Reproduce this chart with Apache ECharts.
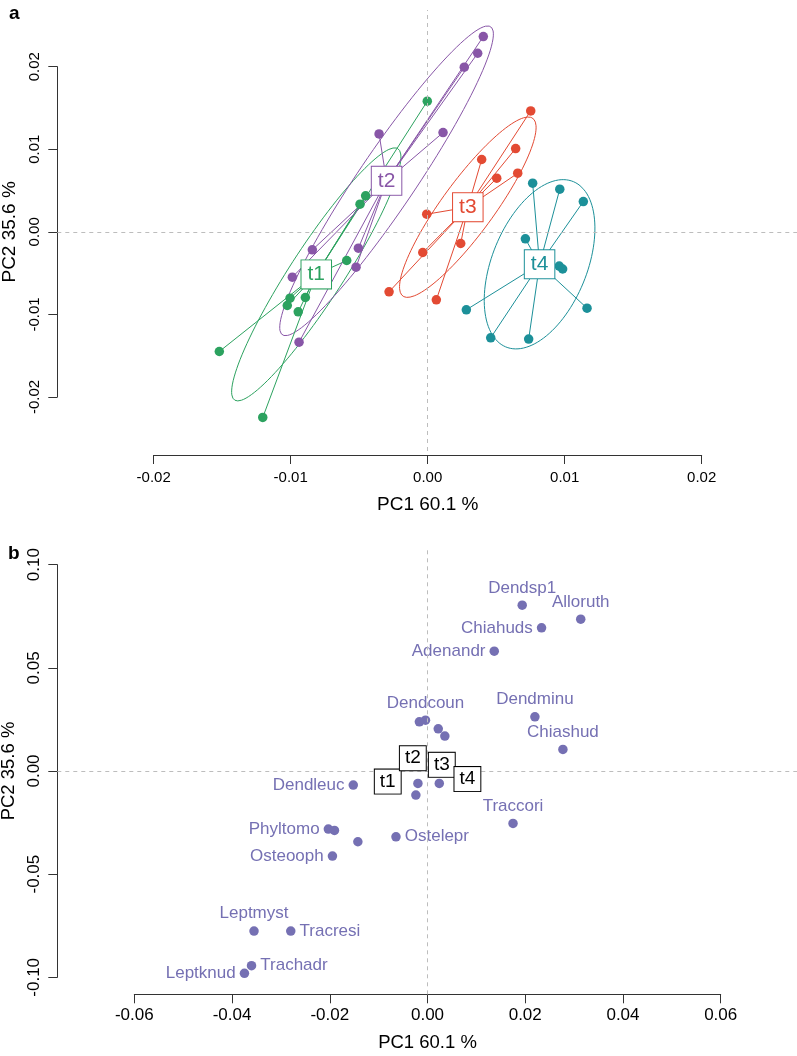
<!DOCTYPE html>
<html><head><meta charset="utf-8">
<script src="https://cdn.jsdelivr.net/npm/echarts@6/dist/echarts.min.js"></script>
<style>html,body{margin:0;padding:0;background:#fff}#c{width:797px;height:1056px}</style>
</head><body><div id="c"></div>
<script>
// ---------------- DATA ----------------
// Panel a: site scores (PC1, PC2) per sampling time
const groupNames = ['t1', 't2', 't3', 't4'];
const t1X = [-0.00003, -0.00453, -0.00494, -0.00591, -0.00893, -0.01005, -0.01025, -0.00945, -0.01521, -0.01204];
const t1Y = [0.01582, 0.00436, 0.00335, -0.00347, -0.00795, -0.00803, -0.00892, -0.00969, -0.01449, -0.02248];
const t2X = [0.00406, 0.00365, 0.00267, -0.00355, 0.00112, -0.00842, -0.00506, -0.00523, -0.00988, -0.00939];
const t2Y = [0.02365, 0.02163, 0.01994, 0.01186, 0.01202, -0.00218, -0.00198, -0.00428, -0.00549, -0.01336];
const t3X = [0.00752, 0.00642, 0.00394, 0.00504, 0.00657, -0.00007, -0.00036, 0.00241, -0.00282, 0.00063];
const t3Y = [0.01465, 0.01009, 0.00876, 0.00650, 0.00710, 0.00214, -0.00250, -0.00141, -0.00726, -0.00823];
const t4X = [0.00766, 0.00964, 0.01136, 0.00713, 0.00960, 0.00985, 0.01163, 0.00282, 0.00460, 0.00737];
const t4Y = [0.00590, 0.00517, 0.00367, -0.00085, -0.00415, -0.00450, -0.00924, -0.00944, -0.01283, -0.01299];

// Panel b: species scores
const spNames = ['Dendsp1', 'Alloruth', 'Chiahuds', 'Adenandr', '', 'Dendcoun', '', '', 'Dendminu', 'Chiashud',
  'Dendleuc', '', '', '', 'Traccori', 'Phyltomo', '', '', 'Ostelepr', 'Osteooph',
  'Leptmyst', 'Tracresi', 'Trachadr', 'Leptknud'];
const spX = [0.01938, 0.03136, 0.02334, 0.01366, -0.00166, -0.00041, 0.00220, 0.00355, 0.02198, 0.02771,
  -0.01519, -0.00196, 0.00241, -0.00238, 0.01750, -0.02029, -0.01904, -0.01425, -0.00645, -0.01945,
  -0.03550, -0.02798, -0.03601, -0.03746];
const spY = [0.08038, 0.07359, 0.06938, 0.05809, 0.02384, 0.02466, 0.02045, 0.01691, 0.02626, 0.01046,
  -0.00683, -0.00601, -0.00601, -0.01168, -0.02539, -0.02815, -0.02879, -0.03430, -0.03188, -0.04123,
  -0.07757, -0.07757, -0.09438, -0.09806];

// Tick values
const aTicksX = [-0.02, -0.01, 0, 0.01, 0.02];
const aTicksY = [-0.02, -0.01, 0, 0.01, 0.02];
const bTicksX = [-0.06, -0.04, -0.02, 0, 0.02, 0.04, 0.06];
const bTicksY = [-0.10, -0.05, 0, 0.05, 0.10];

const xTitle = 'PC1 60.1 %';
const yTitle = 'PC2 35.6 %';

// ---------------- STYLE / LAYOUT ----------------
const groupColors = ['#2CA25F', '#8856A7', '#E34A33', '#1C9099'];
const spColor = '#7570B3';
const labelPlacement = {
  Dendsp1: 'top', Alloruth: 'top', Dendcoun: 'top', Dendminu: 'top', Chiashud: 'top', Traccori: 'top', Leptmyst: 'top',
  Chiahuds: 'left', Adenandr: 'left', Dendleuc: 'left', Phyltomo: 'left', Osteooph: 'left', Leptknud: 'left',
  Ostelepr: 'right', Tracresi: 'right', Trachadr: 'right'
};
const FONT = '"Liberation Sans", Arial, Helvetica, sans-serif';
const axisColor = '#333';
const dashColor = '#BDBDBD';

// pixel boxes: tick-range box (where axis lines run) and plotting box
const LA = { tick: { l: 153.7, r: 701.7, t: 66.7, b: 397 }, plot: { l: 57.3, r: 797, t: 10, b: 451 }, xAxisY: 455, yAxisX: 57.3, fs: 15, ts: 19 };
const LB = { tick: { l: 134.3, r: 720.7, t: 564.7, b: 977.3 }, plot: { l: 57.3, r: 797, t: 548, b: 994.3 }, xAxisY: 994.3, yAxisX: 57.3, fs: 17, ts: 18.5 };

function extent(L, ticks, horizontal) {
  const v0 = ticks[0], v1 = ticks[ticks.length - 1];
  if (horizontal) {
    const k = (v1 - v0) / (L.tick.r - L.tick.l);
    return [v0 - (L.tick.l - L.plot.l) * k, v1 + (L.plot.r - L.tick.r) * k];
  } else {
    const k = (v1 - v0) / (L.tick.b - L.tick.t);
    return [v0 - (L.plot.b - L.tick.b) * k, v1 + (L.tick.t - L.plot.t) * k];
  }
}
function gridOf(box) {
  return { left: box.l, top: box.t, width: box.r - box.l, height: box.b - box.t, containLabel: false, outerBoundsMode: 'none' };
}
const fmt = v => (Math.abs(v) < 1e-12 ? 0 : v).toFixed(2);

function tickAxisX(gi, ticks, L, nameGap, margin) {
  return {
    type: 'value', gridIndex: gi, min: ticks[0], max: ticks[ticks.length - 1], interval: ticks[1] - ticks[0],
    offset: L.xAxisY - L.tick.b,
    axisLine: { show: true, onZero: false, lineStyle: { color: axisColor, width: 1 } },
    axisTick: { show: true, length: 9, lineStyle: { color: axisColor, width: 1 } },
    axisLabel: { show: true, formatter: fmt, fontSize: L.fs, color: '#000', margin: margin, fontFamily: FONT },
    splitLine: { show: false },
    name: xTitle, nameLocation: 'middle', nameGap: nameGap,
    nameTextStyle: { fontSize: L.ts, color: '#000', fontFamily: FONT }
  };
}
function tickAxisY(gi, ticks, L, nameGap, margin) {
  return {
    type: 'value', gridIndex: gi, min: ticks[0], max: ticks[ticks.length - 1], interval: ticks[1] - ticks[0],
    offset: L.tick.l - L.yAxisX,
    axisLine: { show: true, onZero: false, lineStyle: { color: axisColor, width: 1 } },
    axisTick: { show: true, length: 9, lineStyle: { color: axisColor, width: 1 } },
    axisLabel: { show: true, formatter: fmt, fontSize: L.fs, color: '#000', margin: margin, rotate: 90, fontFamily: FONT },
    splitLine: { show: false },
    name: yTitle, nameLocation: 'middle', nameGap: nameGap, nameRotate: 90,
    nameTextStyle: { fontSize: L.ts, color: '#000', fontFamily: FONT }
  };
}
function plotAxis(gi, ext) {
  return { type: 'value', gridIndex: gi, min: ext[0], max: ext[1], show: false, splitLine: { show: false } };
}

// ---------------- DERIVED (ade4 s.class style) ----------------
const groupsX = [t1X, t2X, t3X, t4X];
const groupsY = [t1Y, t2Y, t3Y, t4Y];
const mean = a => a.reduce((s, v) => s + v, 0) / a.length;
const centroids = groupsX.map((xs, i) => [mean(xs), mean(groupsY[i])]);

function ellipse(xs, ys, coeff) {
  const n = xs.length, mx = mean(xs), my = mean(ys);
  let vx = 0, vy = 0, cxy = 0;
  for (let i = 0; i < n; i++) {
    vx += (xs[i] - mx) ** 2 / n; vy += (ys[i] - my) ** 2 / n; cxy += (xs[i] - mx) * (ys[i] - my) / n;
  }
  const delta = Math.sqrt((vx - vy) ** 2 + 4 * cxy * cxy);
  let l1 = (vx + vy + delta) / 2, l2 = vx + vy - l1;
  l1 = Math.sqrt(Math.max(l1, 0)); l2 = Math.sqrt(Math.max(l2, 0));
  let a0 = 1, b0 = (l1 * l1 - vx) / cxy;
  const nr = Math.sqrt(a0 * a0 + b0 * b0); a0 /= nr; b0 /= nr;
  const c11 = coeff * a0 * l1, c12 = -coeff * b0 * l2, c21 = coeff * b0 * l1, c22 = coeff * a0 * l2;
  const pts = [];
  for (let i = 0; i <= 120; i++) {
    const t = 2 * Math.PI * i / 120;
    pts.push([mx + c11 * Math.cos(t) + c12 * Math.sin(t), my + c21 * Math.cos(t) + c22 * Math.sin(t)]);
  }
  return pts;
}

// ---------------- SERIES ----------------
const series = [];
function zeroLines(axisIdx) {
  return {
    type: 'line', xAxisIndex: axisIdx, yAxisIndex: axisIdx, data: [], z: 1, silent: true,
    markLine: {
      silent: true, symbol: ['none', 'none'], label: { show: false }, animation: false,
      lineStyle: { color: dashColor, type: [4, 4], width: 1 },
      data: [{ xAxis: 0 }, { yAxis: 0 }]
    }
  };
}
series.push(zeroLines(1));
series.push(zeroLines(3));

groupNames.forEach((g, i) => {
  series.push({
    type: 'line', name: g + ' ellipse', xAxisIndex: 1, yAxisIndex: 1, data: ellipse(groupsX[i], groupsY[i], 1.5),
    showSymbol: false, symbol: 'none', smooth: false, clip: false, z: 2, silent: true,
    lineStyle: { color: groupColors[i], width: 1 }
  });
});
groupNames.forEach((g, i) => {
  series.push({
    type: 'lines', coordinateSystem: 'cartesian2d', xAxisIndex: 1, yAxisIndex: 1, z: 3, silent: true,
    lineStyle: { color: groupColors[i], width: 1, opacity: 1, curveness: 0 },
    data: groupsX[i].map((x, k) => ({ coords: [centroids[i], [x, groupsY[i][k]]] }))
  });
});
groupNames.forEach((g, i) => {
  series.push({
    type: 'scatter', name: g, xAxisIndex: 1, yAxisIndex: 1, z: 4, clip: false,
    symbol: 'circle', symbolSize: 9.5, itemStyle: { color: groupColors[i], opacity: 1 },
    data: groupsX[i].map((x, k) => [x, groupsY[i][k]])
  });
});
groupNames.forEach((g, i) => {
  series.push({
    type: 'scatter', xAxisIndex: 1, yAxisIndex: 1, z: 5, clip: false, symbolSize: 0,
    itemStyle: { opacity: 1 },
    data: [{ value: centroids[i], name: g }],
    label: {
      show: true, position: 'inside', formatter: '{b}', fontSize: 21, fontFamily: FONT, color: groupColors[i],
      backgroundColor: '#fff', borderColor: groupColors[i], borderWidth: 1, padding: [4, 6, 3, 6]
    }
  });
});

// panel b species
series.push({
  type: 'scatter', xAxisIndex: 3, yAxisIndex: 3, z: 4, clip: false,
  symbol: 'circle', symbolSize: 9.5, itemStyle: { color: spColor, opacity: 1 },
  data: spX.map((x, k) => ({
    value: [x, spY[k]], name: spNames[k],
    label: { show: spNames[k] !== '', position: labelPlacement[spNames[k]] || 'top' }
  })),
  label: { formatter: '{b}', fontSize: 17, color: spColor, fontFamily: FONT, distance: 4 },
  labelLayout: { hideOverlap: false }
});
// panel b time centroids
series.push({
  type: 'scatter', xAxisIndex: 3, yAxisIndex: 3, z: 5, clip: false, symbolSize: 0,
  itemStyle: { opacity: 1 },
  data: groupNames.map((g, i) => ({ value: centroids[i], name: g })),
  label: {
    show: true, position: 'inside', formatter: '{b}', fontSize: 19, fontFamily: FONT, color: '#000',
    backgroundColor: '#fff', borderColor: '#000', borderWidth: 1, padding: [3, 5, 2, 5]
  }
});

const extAX = extent(LA, aTicksX, true), extAY = extent(LA, aTicksY, false);
const extBX = extent(LB, bTicksX, true), extBY = extent(LB, bTicksY, false);

const option = {
  animation: false,
  backgroundColor: '#fff',
  textStyle: { fontFamily: FONT },
  grid: [gridOf(LA.tick), gridOf(LA.plot), gridOf(LB.tick), gridOf(LB.plot)],
  xAxis: [tickAxisX(0, aTicksX, LA, 40, 15), plotAxis(1, extAX), tickAxisX(2, bTicksX, LB, 39, 13), plotAxis(3, extBX)],
  yAxis: [tickAxisY(0, aTicksY, LA, 38, 15), plotAxis(1, extAY), tickAxisY(2, bTicksY, LB, 38, 14), plotAxis(3, extBY)],
  graphic: [
    { type: 'text', left: 9, top: 4, style: { text: 'a', font: 'bold 19px ' + FONT, fill: '#000' } },
    { type: 'text', left: 8, top: 544, style: { text: 'b', font: 'bold 19px ' + FONT, fill: '#000' } }
  ],
  series: series
};
const chart = echarts.init(document.getElementById('c'), null, { renderer: 'canvas' });
chart.setOption(option);
</script></body></html>
